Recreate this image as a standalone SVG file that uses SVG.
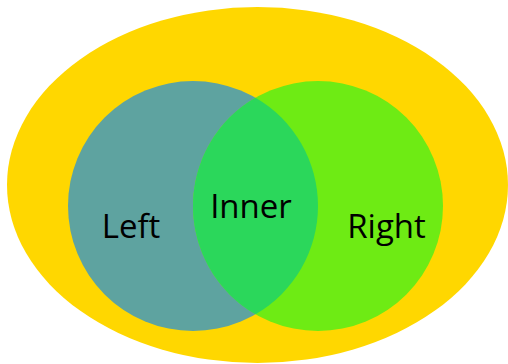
<svg xmlns="http://www.w3.org/2000/svg" width="508" height="364" viewBox="0 0 508 364">
<style>
text{font-family:"Open Sans","Noto Sans","Liberation Sans",sans-serif;font-size:33px;fill:#000;text-anchor:middle}
</style>
<rect width="508" height="364" fill="#fff"/>
<g id="outer"><ellipse cx="257.5" cy="185" rx="250.5" ry="178" fill="#ffd700"/></g>
<g id="left"><circle cx="193" cy="206" r="125" fill="#5ea3a0"/><text x="131" y="238">Left</text></g>
<g id="right"><circle cx="318" cy="206" r="125" fill="#6eeb14"/><text x="386.5" y="238">Right</text></g>
<g id="inner"><path d="M255.5,97.75 A125,125 0 0 1 255.5,314.25 A125,125 0 0 1 255.5,97.75 Z" fill="#2bd75b"/><text x="251" y="218">Inner</text></g>
<g id="connectors"/>
</svg>
